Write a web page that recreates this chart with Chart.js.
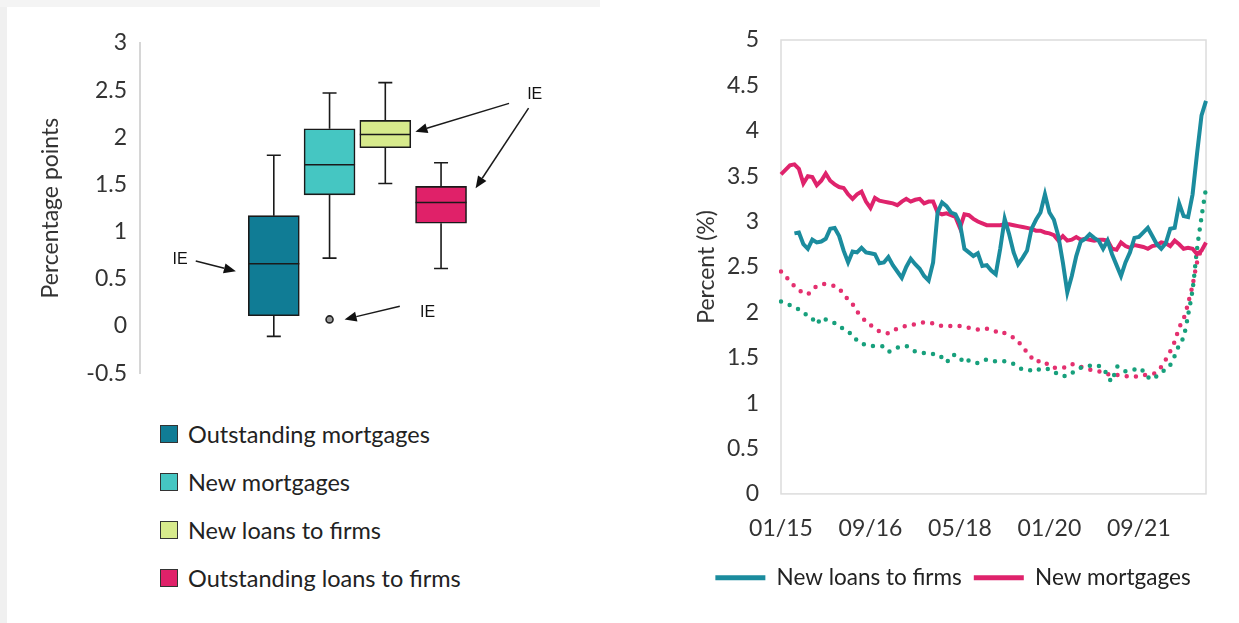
<!DOCTYPE html>
<html>
<head>
<meta charset="utf-8">
<title>Interest rate spreads</title>
<script src="https://cdn.jsdelivr.net/npm/chart.js@4.4.0/dist/chart.umd.min.js"></script>
<style>
  body { margin: 0; width: 1239px; height: 623px; background: #fff; position: relative; overflow: hidden; font-family: Lato, sans-serif; }
  #edgeLeft { position: absolute; left: 0; top: 0; width: 7px; height: 623px; background: #f0f0f0; }
  #edgeTop { position: absolute; left: 0; top: 0; width: 600px; height: 7px; background: #f4f4f4; }
  #boxWrap { position: absolute; left: 0; top: 0; width: 620px; height: 400px; }
  #lineWrap { position: absolute; left: 680px; top: 0; width: 559px; height: 623px; }
  #boxLegend { position: absolute; left: 160px; top: 410px; }
  .item { display: flex; align-items: center; height: 48px; font-size: 23.5px; color: #222; }
  .swatch { width: 16px; height: 16px; border: 1.5px solid #333; margin-right: 10px; }
</style>
</head>
<body>
<div id="edgeLeft"></div>
<div id="edgeTop"></div>
<div id="boxWrap"><canvas id="boxChart"></canvas></div>
<div id="boxLegend"></div>
<div id="lineWrap"><canvas id="lineChart"></canvas></div>
<script>
Chart.defaults.font.family = 'Lato, sans-serif';
Chart.defaults.color = '#333';

// ---- left panel: distribution of spreads (box plot) ----
var boxNames = ['Outstanding mortgages', 'New mortgages', 'New loans to firms', 'Outstanding loans to firms'];
var boxColors = ['#107c95', '#45c6c2', '#d7ea8c', '#e02169'];
var boxPos = [1, 2, 3, 4];
var whiskerLow = [-0.11, 0.72, 1.51, 0.61];
var q1 = [0.11, 1.39, 1.89, 1.09];
var median = [0.66, 1.71, 2.03, 1.31];
var q3 = [1.17, 2.09, 2.18, 1.48];
var whiskerHigh = [1.81, 2.47, 2.58, 1.73];
var outliers = [{x: 2, y: 0.07}];

// "IE" call-outs, in axis units
var ieNotes = [
    {at: [-0.68, 0.70], arrows: [[[-0.40, 0.69], [0.32, 0.58]]]},
    {at: [3.76, 0.14], arrows: [[[3.26, 0.21], [2.27, 0.07]]]},
    {at: [5.68, 2.45], arrows: [[[5.22, 2.36], [3.54, 2.06]], [[5.57, 2.31], [4.62, 1.46]]]}
];

var plainNumber = function (v) { return String(v); };

var whiskerPlugin = {
    id: 'whiskers',
    afterDatasetsDraw: function (chart) {
        var ctx = chart.ctx, x = chart.scales.x, y = chart.scales.y;
        var bars = chart.getDatasetMeta(0).data;
        ctx.save();
        ctx.strokeStyle = '#1a1a1a';
        ctx.lineWidth = 1.6;
        boxPos.forEach(function (p, i) {
            var cx = x.getPixelForValue(p);
            var half = bars[i].width / 2;
            var yHi = y.getPixelForValue(whiskerHigh[i]);
            var yLo = y.getPixelForValue(whiskerLow[i]);
            var yMed = y.getPixelForValue(median[i]);
            ctx.beginPath();
            ctx.moveTo(cx, y.getPixelForValue(q3[i]));
            ctx.lineTo(cx, yHi);
            ctx.moveTo(cx, y.getPixelForValue(q1[i]));
            ctx.lineTo(cx, yLo);
            ctx.moveTo(cx - 7, yHi);
            ctx.lineTo(cx + 7, yHi);
            ctx.moveTo(cx - 7, yLo);
            ctx.lineTo(cx + 7, yLo);
            ctx.moveTo(cx - half, yMed);
            ctx.lineTo(cx + half, yMed);
            ctx.stroke();
        });
        // IE labels and arrows
        ctx.fillStyle = '#111';
        ctx.font = '16px "Liberation Sans", Lato, sans-serif';
        ctx.textAlign = 'center';
        ctx.textBaseline = 'middle';
        ieNotes.forEach(function (n) {
            ctx.fillText('IE', x.getPixelForValue(n.at[0]), y.getPixelForValue(n.at[1]));
            n.arrows.forEach(function (a) {
                var x0 = x.getPixelForValue(a[0][0]), y0 = y.getPixelForValue(a[0][1]);
                var x1 = x.getPixelForValue(a[1][0]), y1 = y.getPixelForValue(a[1][1]);
                var ang = Math.atan2(y1 - y0, x1 - x0);
                var hx = x1 - 12 * Math.cos(ang), hy = y1 - 12 * Math.sin(ang);
                ctx.lineWidth = 1.5;
                ctx.beginPath();
                ctx.moveTo(x0, y0);
                ctx.lineTo(hx, hy);
                ctx.stroke();
                ctx.beginPath();
                ctx.moveTo(x1, y1);
                ctx.lineTo(hx + 5 * Math.sin(ang), hy - 5 * Math.cos(ang));
                ctx.lineTo(hx - 5 * Math.sin(ang), hy + 5 * Math.cos(ang));
                ctx.closePath();
                ctx.fill();
            });
        });
        ctx.restore();
    }
};

var boxChart = new Chart(document.getElementById('boxChart'), {
    type: 'bar',
    data: {
        datasets: [{
            label: 'Interquartile range',
            data: boxPos.map(function (p, i) { return {x: p, y: [q1[i], q3[i]]}; }),
            backgroundColor: boxColors,
            borderColor: '#1a1a1a',
            borderWidth: 1.6,
            borderSkipped: false,
            barThickness: 51
        }, {
            type: 'scatter',
            label: 'Outliers',
            data: outliers,
            pointRadius: 3.5,
            backgroundColor: '#9a9a9a',
            borderColor: '#222',
            borderWidth: 1.6
        }]
    },
    plugins: [whiskerPlugin],
    options: {
        responsive: true,
        maintainAspectRatio: false,
        animation: false,
        layout: {padding: {top: 43, bottom: 26, left: 0, right: 34}},
        plugins: {legend: {display: false}, tooltip: {enabled: false}},
        scales: {
            x: {type: 'linear', min: -1.4, max: 6.6, offset: false, display: false},
            y: {
                min: -0.5, max: 3,
                afterFit: function (scale) { scale.width = 140; },
                ticks: {stepSize: 0.5, padding: 13, font: {size: 23}, color: '#333', callback: plainNumber},
                grid: {display: true, drawOnChartArea: false, drawTicks: false},
                border: {display: true, color: '#d6d6d6', width: 2},
                title: {display: true, text: 'Percentage points', font: {size: 23}, color: '#333', padding: {top: 37, bottom: 0}}
            }
        }
    }
});

// legend for the box plot, built from the same names and colours
var legendBox = document.getElementById('boxLegend');
boxNames.forEach(function (name, i) {
    var row = document.createElement('div');
    row.className = 'item';
    var sw = document.createElement('span');
    sw.className = 'swatch';
    sw.style.background = boxColors[i];
    row.appendChild(sw);
    row.appendChild(document.createTextNode(name));
    legendBox.appendChild(row);
});

// ---- right panel: interest rates, Jan 2015 - Dec 2022 ----
var months = [];
for (var yr = 15; yr <= 22; yr++) {
    for (var m = 1; m <= 12; m++) {
        months.push((m < 10 ? '0' + m : '' + m) + '/' + yr);
    }
}

var ieFirms = [null, null, null, 2.87, 2.88, 2.75, 2.70, 2.80, 2.77, 2.78,
    2.81, 2.92, 2.93, 2.84, 2.68, 2.55, 2.67, 2.66, 2.71, 2.66,
    2.65, 2.64, 2.54, 2.55, 2.61, 2.52, 2.45, 2.38, 2.50, 2.59,
    2.53, 2.48, 2.40, 2.35, 2.55, 3.10, 3.21, 3.17, 3.10, 3.08,
    2.98, 2.70, 2.66, 2.62, 2.65, 2.51, 2.52, 2.46, 2.42, 2.70,
    3.03, 2.86, 2.66, 2.53, 2.60, 2.68, 2.92, 3.02, 3.10, 3.30,
    3.10, 3.02, 2.84, 2.55, 2.22, 2.40, 2.62, 2.78, 2.81, 2.86,
    2.82, 2.79, 2.70, 2.79, 2.64, 2.52, 2.40, 2.55, 2.66, 2.82,
    2.83, 2.88, 2.93, 2.84, 2.75, 2.70, 2.76, 2.92, 2.93, 3.20,
    3.06, 3.05, 3.30, 3.75, 4.17, 4.33];

var ieMortgages = [3.52, 3.57, 3.62, 3.63, 3.58, 3.42, 3.50, 3.49, 3.40, 3.45,
    3.53, 3.45, 3.41, 3.38, 3.37, 3.30, 3.25, 3.30, 3.33, 3.22,
    3.15, 3.26, 3.23, 3.22, 3.21, 3.20, 3.18, 3.22, 3.25, 3.22,
    3.24, 3.25, 3.20, 3.22, 3.22, 3.10, 3.08, 3.09, 3.07, 3.05,
    2.93, 3.08, 3.07, 3.03, 3.00, 2.98, 2.96, 2.96, 2.96, 2.96,
    2.97, 2.97, 2.96, 2.95, 2.94, 2.93, 2.92, 2.90, 2.90, 2.88,
    2.87, 2.85, 2.79, 2.84, 2.79, 2.80, 2.83, 2.80, 2.81, 2.80,
    2.79, 2.80, 2.80, 2.79, 2.70, 2.69, 2.77, 2.73, 2.71, 2.74,
    2.73, 2.72, 2.70, 2.73, 2.74, 2.77, 2.76, 2.73, 2.79, 2.75,
    2.70, 2.71, 2.70, 2.64, 2.68, 2.77];

var eaFirms = [2.12, 2.10, 2.08, 2.06, 2.03, 2.00, 1.96, 1.93, 1.87, 1.94,
    1.92, 1.90, 1.88, 1.86, 1.81, 1.78, 1.76, 1.69, 1.66, 1.64,
    1.63, 1.63, 1.63, 1.62, 1.57, 1.58, 1.61, 1.62, 1.63, 1.59,
    1.57, 1.56, 1.55, 1.54, 1.54, 1.54, 1.50, 1.45, 1.52, 1.53,
    1.50, 1.44, 1.47, 1.46, 1.44, 1.46, 1.48, 1.47, 1.46, 1.46,
    1.46, 1.45, 1.43, 1.40, 1.37, 1.37, 1.36, 1.35, 1.38, 1.38,
    1.37, 1.35, 1.31, 1.30, 1.30, 1.33, 1.37, 1.39, 1.40, 1.41,
    1.42, 1.41, 1.39, 1.30, 1.24, 1.40, 1.38, 1.35, 1.36, 1.37,
    1.39, 1.35, 1.29, 1.26, 1.30, 1.34, 1.37, 1.42, 1.52, 1.64,
    1.73, 1.97, 2.25, 2.70, 3.05, 3.37];

var eaMortgages = [2.45, 2.40, 2.34, 2.29, 2.25, 2.21, 2.20, 2.25, 2.29, 2.31,
    2.31, 2.30, 2.29, 2.26, 2.20, 2.14, 2.09, 2.01, 1.95, 1.90,
    1.86, 1.82, 1.79, 1.77, 1.77, 1.80, 1.82, 1.84, 1.85, 1.86,
    1.87, 1.88, 1.89, 1.88, 1.88, 1.86, 1.85, 1.85, 1.85, 1.85,
    1.85, 1.84, 1.83, 1.82, 1.81, 1.81, 1.82, 1.81, 1.79, 1.80,
    1.77, 1.75, 1.72, 1.68, 1.62, 1.56, 1.50, 1.45, 1.47, 1.45,
    1.41, 1.39, 1.39, 1.39, 1.40, 1.43, 1.41, 1.40, 1.38, 1.37,
    1.36, 1.35, 1.34, 1.32, 1.31, 1.31, 1.31, 1.30, 1.29, 1.29,
    1.30, 1.31, 1.31, 1.32, 1.34, 1.40, 1.48, 1.57, 1.68, 1.83,
    1.93, 2.10, 2.30, 2.55, 2.70, null];

var frameBox = {
    id: 'frameBox',
    beforeDatasetsDraw: function (chart) {
        var a = chart.chartArea, ctx = chart.ctx;
        ctx.save();
        ctx.strokeStyle = '#dcdcdc';
        ctx.lineWidth = 1.5;
        ctx.strokeRect(a.left, a.top, a.right - a.left, a.bottom - a.top);
        ctx.restore();
    }
};

var lineChart = new Chart(document.getElementById('lineChart'), {
    type: 'line',
    data: {
        labels: months,
        datasets: [{
            label: 'New loans to firms',
            data: ieFirms,
            borderColor: '#1b8c9e',
            backgroundColor: '#1b8c9e',
            borderWidth: 4,
            pointRadius: 0,
            tension: 0
        }, {
            label: 'New mortgages',
            data: ieMortgages,
            borderColor: '#df236c',
            backgroundColor: '#df236c',
            borderWidth: 4,
            pointRadius: 0,
            tension: 0
        }, {
            label: 'New loans to firms (euro area)',
            data: eaFirms,
            borderColor: '#17a07c',
            borderWidth: 4.5,
            borderDash: [0, 9.3],
            borderCapStyle: 'round',
            pointRadius: 0,
            tension: 0.3
        }, {
            label: 'New mortgages (euro area)',
            data: eaMortgages,
            borderColor: '#e4306f',
            borderWidth: 4.5,
            borderDash: [0, 9.3],
            borderCapStyle: 'round',
            pointRadius: 0,
            tension: 0.3
        }]
    },
    plugins: [frameBox],
    options: {
        responsive: true,
        maintainAspectRatio: false,
        animation: false,
        layout: {padding: {top: 40, left: 10, right: 23, bottom: 24}},
        plugins: {
            tooltip: {enabled: false},
            legend: {
                position: 'bottom',
                labels: {
                    boxWidth: 50,
                    boxHeight: 5,
                    padding: 12,
                    color: '#222',
                    font: {size: 22.5},
                    generateLabels: function (chart) {
                        return Chart.defaults.plugins.legend.labels.generateLabels(chart)
                            .filter(function (l) { return l.datasetIndex < 2; })
                            .map(function (l) {
                                l.fillStyle = l.strokeStyle;
                                l.lineWidth = 0;
                                return l;
                            });
                    }
                }
            }
        },
        scales: {
            x: {
                offset: false,
                grid: {display: false},
                border: {display: false},
                ticks: {
                    autoSkip: false,
                    maxRotation: 0,
                    padding: 12.5,
                    font: {size: 23},
                    color: '#333',
                    callback: function (v, i) { return i % 20 === 0 ? months[i] : null; }
                }
            },
            y: {
                min: 0, max: 5,
                afterFit: function (scale) { scale.width = 91; },
                grid: {display: false},
                border: {display: false},
                ticks: {stepSize: 0.5, padding: 14, font: {size: 23}, color: '#333', callback: plainNumber},
                title: {display: true, text: 'Percent (%)', font: {size: 23}, color: '#333', padding: {top: 3, bottom: 0}}
            },
            // empty spacer on the right so the legend sits where the original does
            yRight: {
                position: 'right',
                min: 0, max: 5,
                afterFit: function (scale) { scale.width = 10; },
                ticks: {display: false},
                grid: {display: false},
                border: {display: false}
            }
        }
    }
});
</script>
</body>
</html>
